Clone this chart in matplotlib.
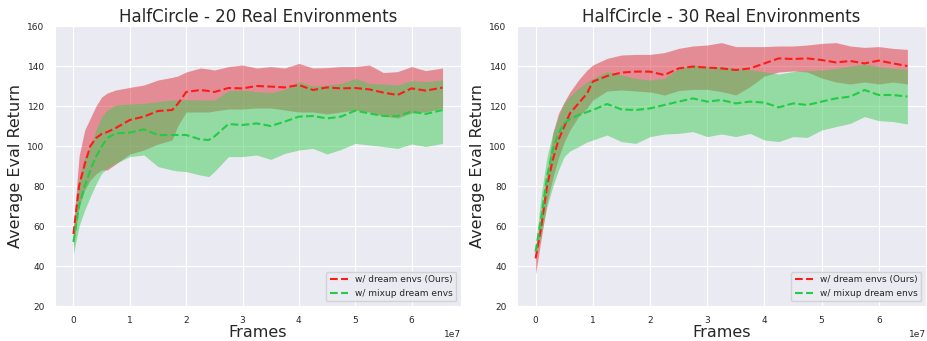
import matplotlib
matplotlib.use('Agg')
import matplotlib.pyplot as plt
import seaborn as sns
import numpy as np

sns.set_style('darkgrid')

# frames in units of 1e7
x_20 = [0, 0.1, 0.2, 0.3, 0.4, 0.5, 0.6, 0.75, 1.0, 1.25, 1.5, 1.75, 1.85, 2.0, 2.25, 2.4, 2.5,
        2.75, 3.0, 3.25, 3.5, 3.75, 4.0, 4.25, 4.5, 4.75, 5.0, 5.25, 5.5, 5.75, 6.0, 6.25, 6.55]
dream_mean_20 = [56, 80, 91, 100, 104, 106, 107, 109, 113, 114.7, 117.5, 118, 121, 127, 128, 127.5, 127,
                 129, 128.8, 130, 129.7, 129.3, 130.5, 128, 129.3, 128.8, 129, 128.3, 126.7, 125.5, 128.8, 127.7, 129.2]
dream_hi_20 = [60, 95, 108, 114, 120, 124.5, 126.5, 128, 129.3, 130.5, 133, 134.3, 135, 137, 139, 138.5, 138,
               139.7, 140.5, 139, 139.7, 139, 141.3, 139, 139.2, 139.7, 139.7, 140.5, 136.7, 137.2, 139.7, 137.7, 139]
dream_lo_20 = [50, 70, 78, 83, 86, 88, 88, 91, 96, 98, 101, 103, 110, 117, 117, 117, 117.5,
               118.5, 118.5, 119, 119, 118, 117, 117, 116, 117, 118, 117, 115, 114, 116.5, 117, 119]
mixup_mean_20 = [52, 70, 80, 88, 94.7, 99.7, 104, 106.3, 106.7, 108.3, 105.5, 105.5, 105.5, 105.5, 103.3, 103, 104.7,
                 111, 110.5, 111.3, 110, 112.2, 114.7, 115, 113.8, 114.7, 117.7, 116.3, 115, 115, 117.2, 116, 118]
mixup_hi_20 = [56, 83, 94.7, 99.7, 108, 114.7, 118, 120.5, 121, 121.3, 122.2, 123, 123, 123.3, 123, 123, 123,
               127.7, 128, 127.2, 126.7, 128.3, 132.2, 130, 130.5, 131.3, 133.8, 131.3, 131, 130.5, 132.7, 132.2, 133]
mixup_lo_20 = [46, 60, 68, 74.7, 81, 86.3, 89, 91.3, 94.7, 95.5, 89.7, 88, 87.5, 87.2, 85.5, 84.7, 87.2,
               94.7, 94.7, 95.5, 93.3, 96.3, 98, 98.8, 96, 98.3, 101.3, 100.5, 99.7, 98.8, 101, 99.7, 101.3]

x_30 = [0, 0.1, 0.2, 0.3, 0.4, 0.5, 0.6, 0.75, 0.9, 1.0, 1.25, 1.5, 1.75, 2.0, 2.25, 2.5, 2.75,
        3.0, 3.25, 3.5, 3.75, 4.0, 4.25, 4.5, 4.75, 5.0, 5.25, 5.5, 5.75, 6.0, 6.25, 6.5]
dream_mean_30 = [43.8, 60, 80, 93, 103, 109.7, 116.3, 121.3, 126.3, 132.2, 135, 136.7, 137.2, 137.2, 135.5, 138.8, 139.7,
                 139.2, 138.8, 138, 138.8, 141.3, 143.8, 143.5, 143.8, 143, 141.8, 142.5, 141.3, 142.7, 141.3, 140]
dream_hi_30 = [46, 66, 86.3, 106.3, 116.3, 122, 127, 133, 138, 140.5, 143.8, 145.5, 145.8, 145.8, 146.7, 148.8, 150,
               150.5, 151.7, 149.7, 149.7, 149.7, 150, 150, 150.5, 151.3, 151.7, 150, 149.3, 149.7, 148.8, 148.3]
dream_lo_30 = [36, 54, 72, 84, 94, 102, 108, 114.7, 119, 123, 127.5, 128, 127.5, 127, 125.5, 127.7, 128.3,
               128.3, 127.2, 125.5, 129.7, 135, 137, 137.5, 137, 134, 132, 131, 132, 131, 132, 131]
mixup_mean_30 = [47.2, 64.7, 84.7, 98, 106.3, 111.3, 113.5, 115.5, 117, 118, 121, 118.3, 118, 118.8, 120.5, 122.2, 123.8,
                 122.2, 123, 121.3, 122.2, 121.7, 119.3, 121.3, 120.5, 122.2, 123.8, 124.7, 128, 125.5, 125.5, 124.7]
mixup_hi_30 = [50, 76, 94.7, 106.3, 114.7, 121.3, 125, 128.8, 132, 133.8, 137.2, 135.5, 133.8, 133, 133.8, 138.8, 140.5,
               139.7, 139.7, 138.8, 138, 137.2, 136, 137.2, 137.7, 138, 138.8, 140, 141, 139.7, 138.8, 138.3]
mixup_lo_30 = [46, 56, 69.7, 79.7, 88, 94.7, 97.5, 99.7, 102, 103, 105.5, 102.2, 101.3, 104.7, 106, 106.3, 107.2,
               104.7, 106, 104.7, 106.3, 103, 102.2, 104.7, 104.3, 108, 109.7, 111.3, 114.7, 112.7, 112.2, 111]

titles = ['HalfCircle - 20 Real Environments', 'HalfCircle - 30 Real Environments']
runs = [
    (x_20, dream_mean_20, dream_lo_20, dream_hi_20, mixup_mean_20, mixup_lo_20, mixup_hi_20),
    (x_30, dream_mean_30, dream_lo_30, dream_hi_30, mixup_mean_30, mixup_lo_30, mixup_hi_30),
]

red = '#ff1a1a'
green = '#22cc44'

fig = plt.figure(figsize=(9.27, 3.41), dpi=100)
positions = [[55/927, 35/341, 406/927, 280/341], [517/927, 35/341, 409/927, 280/341]]

for pos, title, run in zip(positions, titles, runs):
    ax = fig.add_axes(pos)
    x, dm, dlo, dhi, mm, mlo, mhi = run
    x = np.array(x) * 1e7
    ax.fill_between(x, dlo, dhi, color='#e0303a', alpha=0.5, linewidth=0)
    ax.fill_between(x, mlo, mhi, color='#3dcc55', alpha=0.5, linewidth=0)
    ax.plot(x, dm, '--', color=red, lw=1.5, label='w/ dream envs (Ours)')
    ax.plot(x, mm, '--', color=green, lw=1.5, label='w/ mixup dream envs')
    ax.set_ylim(20, 160)
    ax.set_title(title, fontsize=12, pad=3)
    ax.set_xlabel('Frames', fontsize=11.5, labelpad=0)
    ax.set_ylabel('Average Eval Return', fontsize=11.5, labelpad=3)
    ax.tick_params(labelsize=6.5, pad=4)
    ax.xaxis.get_offset_text().set_fontsize(6.5)
    ax.legend(loc='lower right', fontsize=6.5)

plt.savefig('out.png', dpi=100)
